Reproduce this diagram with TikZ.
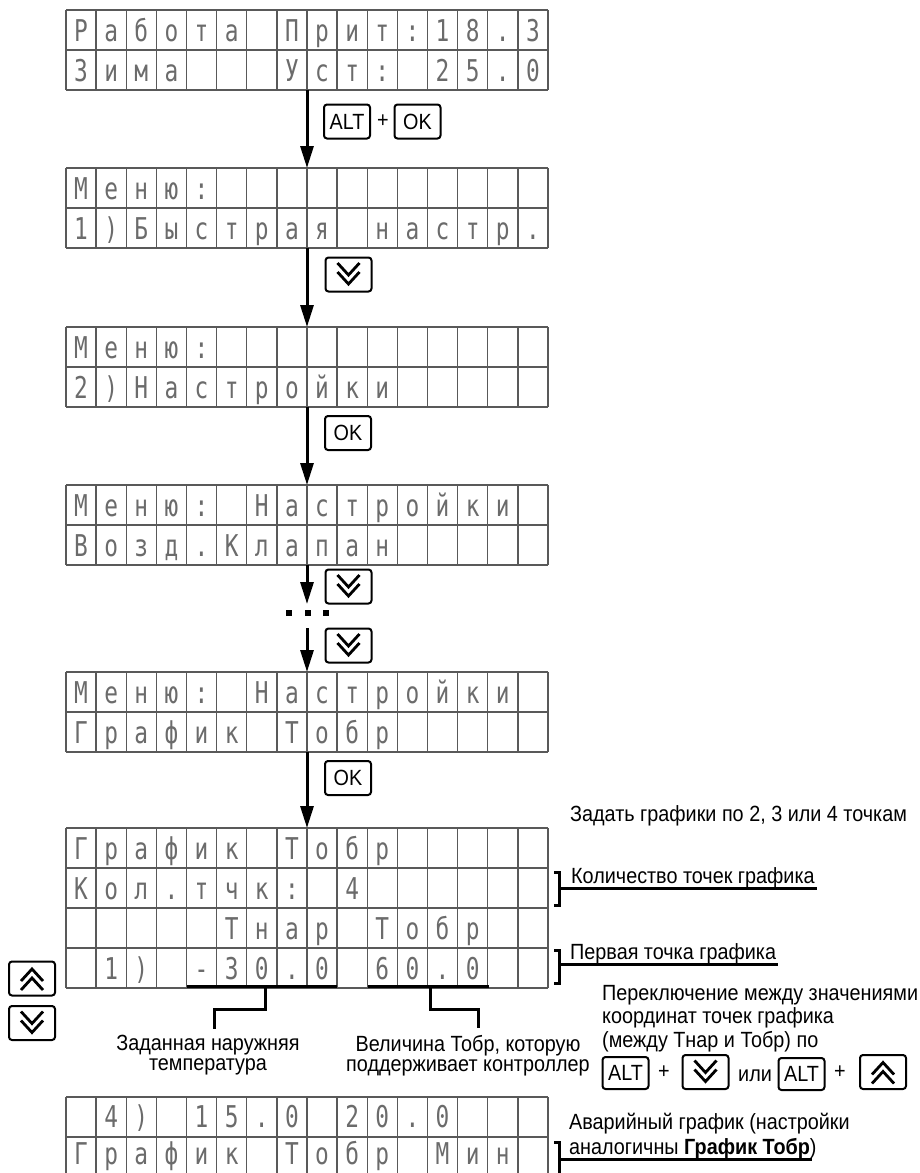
\documentclass[tikz,border=0pt]{standalone}
\usepackage{fontspec}
\setmainfont{Liberation Sans}[FakeStretch=0.9]
\newfontfamily\lcdfont{DejaVu Sans Mono}[FakeStretch=0.76]
\usetikzlibrary{arrows.meta}
\tikzset{
  gridline/.style={line width=1.3pt, draw=black!65},
  gridnode/.style={inner sep=0pt, outer sep=0pt, minimum width=482pt},
  lcd/.style={anchor=base, inner sep=0pt, font=\lcdfont\fontsize{30}{30}\selectfont, text=black!58},
  flow/.style={line width=3pt, -{Triangle[width=13pt,length=22pt]}},
  keybox/.style={draw, line width=2pt, rounded corners=3pt, minimum width=46pt, minimum height=34pt, inner sep=0pt, font=\fontsize{22}{22}\selectfont},
  plus/.style={inner sep=0pt, font=\fontsize{22}{22}\selectfont},
  chev/.style={line width=2.8pt, line join=miter},
  lbl/.style={anchor=base west, inner sep=0pt, font=\fontsize{22}{22}\selectfont},
  lblc/.style={anchor=north, inner sep=0pt, align=center, font=\fontsize{22}{20}\selectfont},
  brk/.style={line width=3pt},
}
% grid: name, top y, rows, height
\newcommand\lcdgrid[4]{%
  \node[gridnode, minimum height=#4pt] (#1) at (307,{#2+#4/2}) {};
  \foreach \k in {0,...,16} \draw[gridline] ({66+30.125*\k},#2) -- ({66+30.125*\k},{#2+#4});
  \foreach \k in {0,...,#3} \draw[gridline] (66,{#2+40*\k}) -- (548,{#2+40*\k});
}
% row of characters: name prefix, baseline y, list (* = empty cell)
\newcommand\lcdrow[3]{%
  \foreach \ch [count=\i] in {#3} {\if*\ch\else\node[lcd] (#1\i) at ({66+30.125*(\i-0.5)},#2) {\ch};\fi}
}
\newcommand\chevdown[1]{%
  \draw[chev] ([shift={(-11,-11.5)}]#1.center) -- ([shift={(0,0.5)}]#1.center) -- ([shift={(11,-11.5)}]#1.center);
  \draw[chev] ([shift={(-11,-2.5)}]#1.center) -- ([shift={(0,9.5)}]#1.center) -- ([shift={(11,-2.5)}]#1.center);
}
\newcommand\chevup[1]{%
  \draw[chev] ([shift={(-11,11.5)}]#1.center) -- ([shift={(0,-0.5)}]#1.center) -- ([shift={(11,11.5)}]#1.center);
  \draw[chev] ([shift={(-11,2.5)}]#1.center) -- ([shift={(0,-9.5)}]#1.center) -- ([shift={(11,2.5)}]#1.center);
}
\begin{document}
\begin{tikzpicture}[x=1pt,y=-1pt]
\useasboundingbox (0,0) rectangle (920,1173);
\clip (0,0) rectangle (920,1173);

% ---- grid 1
\lcdgrid{G1}{10}{2}{80}
\lcdrow{g1a}{41}{Р,а,б,о,т,а,*,П,р,и,т,:,1,8,.,3}
\lcdrow{g1b}{81}{З,и,м,а,*,*,*,У,с,т,:,*,2,5,.,0}
% ---- grid 2
\lcdgrid{G2}{168}{2}{80}
\lcdrow{g2a}{199}{М,е,н,ю,:}
\lcdrow{g2b}{239}{1,),Б,ы,с,т,р,а,я,*,н,а,с,т,р,.}
% ---- grid 3
\lcdgrid{G3}{327}{2}{80}
\lcdrow{g3a}{358}{М,е,н,ю,:}
\lcdrow{g3b}{398}{2,),Н,а,с,т,р,о,й,к,и}
% ---- grid 4
\lcdgrid{G4}{485}{2}{80}
\lcdrow{g4a}{516}{М,е,н,ю,:,*,Н,а,с,т,р,о,й,к,и}
\lcdrow{g4b}{556}{В,о,з,д,.,К,л,а,п,а,н}
% ---- grid 5
\lcdgrid{G5}{672}{2}{80}
\lcdrow{g5a}{703}{М,е,н,ю,:,*,Н,а,с,т,р,о,й,к,и}
\lcdrow{g5b}{743}{Г,р,а,ф,и,к,*,Т,о,б,р}
% ---- grid 6
\lcdgrid{G6}{828}{4}{160}
\lcdrow{g6a}{859}{Г,р,а,ф,и,к,*,Т,о,б,р}
\lcdrow{g6b}{899}{К,о,л,.,т,ч,к,:,*,4}
\lcdrow{g6c}{939}{*,*,*,*,*,Т,н,а,р,*,Т,о,б,р}
\lcdrow{g6d}{979}{*,1,),*,-,3,0,.,0,*,6,0,.,0}
% ---- grid 7
\lcdgrid{G7}{1097}{2}{80}
\lcdrow{g7a}{1127}{*,4,),*,1,5,.,0,*,2,0,.,0}
\lcdrow{g7b}{1164}{Г,р,а,ф,и,к,*,Т,о,б,р,*,М,и,н}

% ---- flow arrows and keys
\draw[flow] (G1.south) -- (G2.north);
\node[keybox] (kA1) at (347,121.5) {ALT};
\node[plus] (p1) at (383,121.5) {+};
\node[keybox] (kO1) at (417.5,121.5) {OK};

\draw[flow] (G2.south) -- (G3.north);
\node[keybox] (kD1) at (348.5,274.5) {};
\chevdown{kD1}

\draw[flow] (G3.south) -- (G4.north);
\node[keybox] (kO2) at (348,433) {OK};

\coordinate (d1) at (307,604);
\coordinate (d2) at (307,628);
\draw[flow] (G4.south) -- (d1);
\node[keybox] (kD2) at (348.5,586.5) {};
\chevdown{kD2}
\node[inner sep=0pt, minimum width=42pt, minimum height=6pt] (dots) at (307.5,613) {};
\fill (dots.west) ++(0,-3) rectangle ++(6,6);
\fill (dots.center) ++(-3,-3) rectangle ++(6,6);
\fill (dots.east) ++(-6,-3) rectangle ++(6,6);
\draw[flow] (d2) -- (G5.north);
\node[keybox] (kD3) at (348.5,645.5) {};
\chevdown{kD3}

\draw[flow] (G5.south) -- (G6.north);
\node[keybox] (kO3) at (348,778) {OK};

% ---- left keys
\node[keybox] (kU4) at (32,978.5) {};
\chevup{kU4}
\node[keybox] (kD4) at (32,1023) {};
\chevdown{kD4}

% ---- underlines below grid 6
\coordinate (u1l) at (187,986); \coordinate (u1r) at (337,986);
\coordinate (u1m) at (265,986); \coordinate (u1k) at (214,1009); \coordinate (u1e) at (214,1029);
\draw[brk] (u1l) -- (u1r);
\draw[brk] (u1m) |- (u1k) -- (u1e);
\node[lblc] (t1) at (208,1035) {Заданная наружняя\\температура};

\coordinate (u2l) at (368,986); \coordinate (u2r) at (489,986);
\coordinate (u2m) at (430,986); \coordinate (u2k) at (478,1009); \coordinate (u2e) at (478,1028);
\draw[brk] (u2l) -- (u2r);
\draw[brk] (u2m) |- (u2k) -- (u2e);
\node[lblc] (t2) at (468,1035) {Величина Тобр, которую\\поддерживает контроллер};

% ---- right annotations
\node[lbl] (r0) at (570,821) {Задать графики по 2, 3 или 4 точкам};

\draw[brk] (554,872) -- (559,872) -- (559,905) -- (554,905);
\draw[brk] (559,888) -- (817,888);
\node[lbl] (r1) at (571,883) {Количество точек графика};

\draw[brk] (554,950) -- (559,950) -- (559,983) -- (554,983);
\draw[brk] (559,964) -- (778,964);
\node[lbl] (r2) at (570,959) {Первая точка графика};

\node[lbl] (r3a) at (602,1000) {Переключение между значениями};
\node[lbl] (r3b) at (602,1023.5) {координат точек графика};
\node[lbl] (r3c) at (602,1047) {(между Тнар и Тобр) по};

\node[keybox, minimum height=32pt] (kA2) at (625.5,1073) {ALT};
\node[plus] (p2) at (664,1072) {+};
\node[keybox] (kD5) at (705.5,1072) {};
\chevdown{kD5}
\node[lbl] (ili) at (738,1081) {или};
\node[keybox, minimum height=32pt] (kA3) at (801.5,1074) {ALT};
\node[plus] (p3) at (840,1072) {+};
\node[keybox] (kU5) at (883,1072) {};
\chevup{kU5}

\node[lbl] (r4a) at (569,1129) {Аварийный график (настройки};
\node[lbl] (r4b) at (569,1154) {аналогичны \textbf{График Тобр})};
\draw[brk] (554,1142) -- (559,1142) -- (559,1185);
\draw[brk] (559,1159) -- (812,1159);
\end{tikzpicture}
\end{document}
